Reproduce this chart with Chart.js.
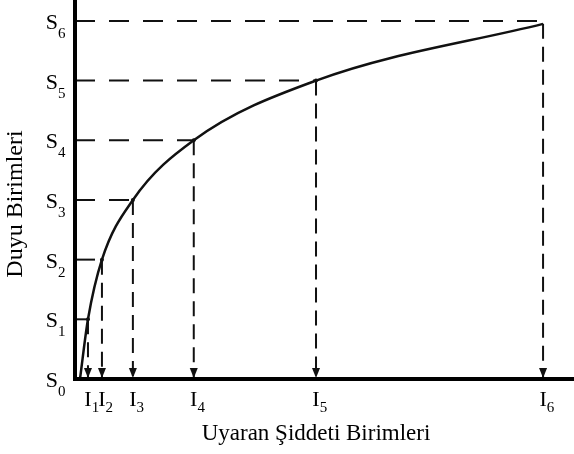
<!DOCTYPE html>
<html>
<head>
<meta charset="utf-8">
<script src="https://cdn.jsdelivr.net/npm/chart.js@4"></script>
<style>
  html, body { margin: 0; padding: 0; background: #fff; }
  #wrap { width: 574px; height: 454px; position: relative; }
</style>
</head>
<body>
<div id="wrap"><canvas id="chart"></canvas></div>
<script>
// stimulus intensities I1..I6 (x) and sensation levels S0..S6 (y)
const intensity = [0.26, 0.54, 1.16, 2.38, 4.83, 9.38];
const sensation = [1, 2, 3, 4, 5, 6];
const sLabels = ["0", "1", "2", "3", "4", "5", "6"];
const iLabels = ["1", "2", "3", "4", "5", "6"];
// points (start near origin, then each I/S pair)
const curveX = [0.1, 0.26, 0.54, 1.16, 2.38, 4.83, 9.38];
const curveY = [0, 1, 2, 3, 4, 5, 5.95];

const xTitle = "Uyaran Şiddeti Birimleri";
const yTitle = "Duyu Birimleri";
const ink = "#111";
const serif = "'Liberation Serif', 'Times New Roman', serif";

const datasets = [];
datasets.push({
    data: curveX.map((x, i) => ({ x: x, y: curveY[i] })),
    borderColor: ink,
    borderWidth: 2.5,
    cubicInterpolationMode: "monotone",
    pointRadius: curveX.map((x, i) => (i === 0 || i === curveX.length - 1 ? 0 : 2)),
    pointBackgroundColor: ink,
    pointBorderWidth: 0,
    order: 0,
});
intensity.forEach((ix, i) => {
    // horizontal guide from the y axis to the curve
    datasets.push({
        data: [{ x: 0, y: sensation[i] }, { x: ix, y: sensation[i] }],
        borderColor: ink,
        borderWidth: 2,
        borderDash: [20, 14],
        pointRadius: 0,
        order: 1,
    });
    // vertical guide down to the x axis
    datasets.push({
        data: [{ x: ix, y: curveY[i + 1] }, { x: ix, y: 0 }],
        borderColor: ink,
        borderWidth: 2,
        borderDash: [15, 8],
        pointRadius: 0,
        order: 1,
    });
});

const decor = {
    id: "decor",
    afterDatasetsDraw(chart) {
        const ctx = chart.ctx;
        const xs = chart.scales.x;
        const ys = chart.scales.y;
        const area = chart.chartArea;
        const y0 = ys.getPixelForValue(0);
        const x0 = xs.getPixelForValue(0);
        ctx.save();
        // arrowheads
        ctx.fillStyle = ink;
        intensity.forEach((ix) => {
            const px = xs.getPixelForValue(ix);
            ctx.beginPath();
            ctx.moveTo(px - 4, y0 - 11);
            ctx.lineTo(px + 4, y0 - 11);
            ctx.lineTo(px, y0 - 1);
            ctx.closePath();
            ctx.fill();
        });
        // axes
        ctx.strokeStyle = "#000";
        ctx.lineWidth = 4;
        ctx.beginPath();
        ctx.moveTo(x0, area.top);
        ctx.lineTo(x0, y0);
        ctx.lineTo(area.right, y0);
        ctx.stroke();

        ctx.fillStyle = "#000";
        ctx.textBaseline = "alphabetic";
        // S tick labels
        sLabels.forEach((s, k) => {
            const py = ys.getPixelForValue(k);
            ctx.font = "22px " + serif;
            ctx.textAlign = "right";
            ctx.fillText("S", 58, py + 8);
            ctx.font = "15px " + serif;
            ctx.textAlign = "left";
            ctx.fillText(s, 58, py + 17);
        });
        // I tick labels
        iLabels.forEach((s, k) => {
            const px = xs.getPixelForValue(intensity[k]);
            ctx.font = "22px " + serif;
            ctx.textAlign = "center";
            const w = ctx.measureText("I").width;
            ctx.fillText("I", px, 406);
            ctx.font = "15px " + serif;
            ctx.textAlign = "left";
            ctx.fillText(s, px + w / 2, 412);
        });
        // axis titles
        ctx.font = "23px " + serif;
        ctx.textAlign = "center";
        ctx.fillText(xTitle, 316, 440);
        ctx.font = "24px " + serif;
        ctx.textBaseline = "middle";
        ctx.translate(16, 204);
        ctx.rotate(-Math.PI / 2);
        ctx.fillText(yTitle, 0, 0);
        ctx.restore();
    },
};

new Chart(document.getElementById("chart"), {
    type: "line",
    data: { datasets: datasets },
    options: {
        responsive: true,
        maintainAspectRatio: false,
        animation: false,
        layout: { padding: { left: 75, right: 0, top: 0, bottom: 75 } },
        plugins: { legend: { display: false }, tooltip: { enabled: false } },
        scales: {
            x: { type: "linear", min: 0, max: 10, display: false },
            y: { type: "linear", min: 0, max: 6.35, display: false },
        },
    },
    plugins: [decor],
});
</script>
</body>
</html>
